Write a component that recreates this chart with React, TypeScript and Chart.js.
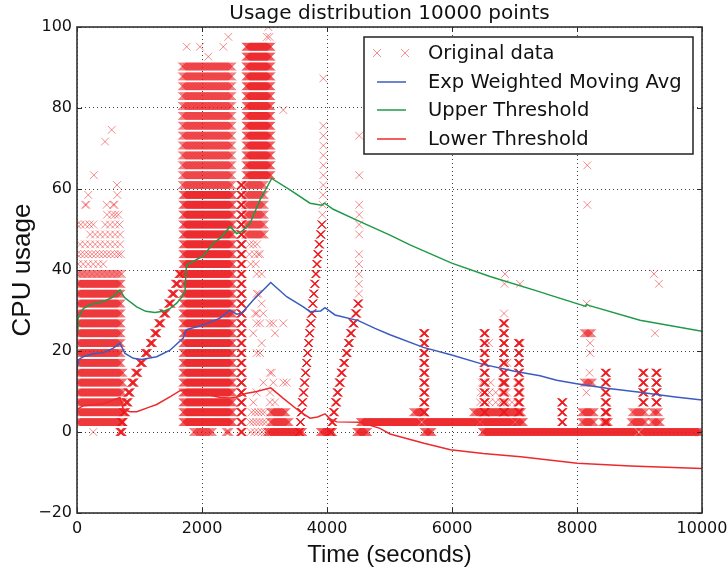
import React, { useEffect, useRef } from 'react';
import { Chart, registerables } from 'chart.js';

Chart.register(...registerables);

// ---------- axis ticks ----------
const xTicks = [0, 2000, 4000, 6000, 8000, 10000];
const yTicks = [-20, 0, 20, 40, 60, 80, 100];

// ---------- quantised CPU levels seen in the data ----------
const cpuLevels = [
  0, 2.44, 4.88, 7.32, 9.76, 12.2, 14.63, 17.07, 19.51, 21.95, 24.39, 26.83, 29.27, 31.71,
  34.15, 36.59, 39.02, 41.46, 43.9, 46.34, 48.78, 51.22, 53.66, 56.1, 58.54, 60.98, 63.41,
  65.85, 68.29, 70.73, 73.17, 75.61, 78.05, 80.49, 82.93, 85.37, 87.8, 90.24, 92.68, 95.12,
  97.56, 100,
];

// runs of consecutive samples:
// [first level index, last level index, start time, end time, sampling interval]
const sampleRuns: [number, number, number, number, number][] = [
  // busy period 0-740 s
  [1, 6, 0, 740, 10], [7, 15, 0, 715, 10], [16, 16, 0, 720, 20],
  // ramp 680-1675 s
  [0, 0, 680, 730, 4], [1, 1, 700, 745, 4], [2, 2, 735, 785, 4], [3, 3, 775, 825, 4],
  [4, 4, 810, 860, 4], [5, 5, 870, 920, 4], [6, 6, 930, 980, 4], [7, 7, 1005, 1055, 4],
  [8, 8, 1085, 1135, 4], [9, 9, 1165, 1215, 4], [10, 10, 1235, 1285, 4], [11, 11, 1300, 1350, 4],
  [12, 12, 1380, 1430, 4], [13, 13, 1460, 1510, 4], [14, 14, 1515, 1565, 4],
  [15, 15, 1570, 1620, 4], [16, 16, 1625, 1675, 4],
  // busy period 1680-2650 s
  [1, 24, 1690, 2500, 8], [25, 37, 1680, 2490, 12], [0, 0, 1860, 2180, 12],
  [0, 0, 2380, 2450, 12], [0, 25, 2615, 2650, 3],
  // busy period 2690-3620 s
  [26, 39, 2700, 3110, 8], [20, 25, 2690, 3010, 12], [0, 0, 3040, 3620, 8],
  [1, 1, 3090, 3400, 10], [2, 2, 3090, 3350, 10],
  // ramp 3550-3925 s
  [0, 0, 3548, 3566, 2], [1, 1, 3566, 3584, 2], [2, 2, 3583, 3601, 2], [3, 3, 3599, 3617, 2],
  [4, 4, 3616, 3634, 2], [5, 5, 3632, 3650, 2], [6, 6, 3649, 3667, 2], [7, 7, 3666, 3684, 2],
  [8, 8, 3682, 3700, 2], [9, 9, 3699, 3717, 2], [10, 10, 3714, 3732, 2], [11, 11, 3731, 3749, 2],
  [12, 12, 3747, 3765, 2], [13, 13, 3764, 3782, 2], [14, 14, 3780, 3798, 2],
  [15, 15, 3797, 3815, 2], [16, 16, 3814, 3832, 2], [17, 17, 3830, 3848, 2],
  [18, 18, 3847, 3865, 2], [19, 19, 3868, 3886, 2], [20, 20, 3891, 3909, 2],
  [21, 21, 3910, 3924, 2], [0, 0, 3890, 4100, 8],
  // ramp 4040-4510 s
  [0, 0, 4040, 4072, 3], [1, 1, 4070, 4102, 3], [2, 2, 4096, 4128, 3], [3, 3, 4130, 4162, 3],
  [4, 4, 4156, 4188, 3], [5, 5, 4190, 4222, 3], [6, 6, 4220, 4252, 3], [7, 7, 4260, 4292, 3],
  [8, 8, 4300, 4332, 3], [9, 9, 4335, 4367, 3], [10, 10, 4370, 4402, 3],
  [11, 11, 4410, 4442, 3], [12, 12, 4450, 4482, 3], [13, 13, 4485, 4512, 3],
  [0, 0, 4470, 4660, 8],
  // idle bands
  [1, 1, 4530, 5505, 8], [1, 1, 5535, 6440, 8], [1, 1, 6460, 7000, 8], [1, 1, 7020, 7150, 8],
  [0, 0, 6480, 8975, 8], [0, 0, 9010, 10000, 8],
  // spike near 5550 s
  [2, 10, 5540, 5575, 3], [2, 2, 5380, 5560, 10], [0, 0, 5550, 5690, 8],
  // bursts 6340-7120 s
  [2, 2, 6340, 7120, 10], [2, 10, 6505, 6540, 3], [2, 11, 6815, 6850, 3],
  [2, 9, 7055, 7090, 3], [5, 5, 6800, 6860, 10],
  // small bursts after 7700 s
  [1, 3, 7750, 7780, 3],
  [1, 2, 8070, 8280, 10], [5, 5, 8110, 8260, 12], [10, 10, 8110, 8250, 12],
  [1, 6, 8445, 8480, 3], [1, 1, 8410, 8510, 10], [2, 2, 8440, 8490, 10],
  [1, 1, 8860, 9100, 10], [1, 1, 9190, 9340, 10], [2, 2, 8880, 9100, 12],
  [2, 2, 9210, 9310, 10], [3, 6, 9045, 9080, 3], [3, 6, 9255, 9290, 3],
];

// isolated samples on one level: [level index, sample times]
const levelRows: [number, number[]][] = [
  [0, [260]],
  [17, [20, 100, 180, 260, 340, 420]],
  [18, [0, 60, 120, 180, 240, 300, 360, 420, 480, 540, 600, 660, 700]],
  [19, [50, 130, 210, 290, 370, 450, 530, 610, 690]],
  [20, [210, 290, 370, 450, 530, 610, 690]],
  [21, [0, 60, 130, 200, 260, 450, 530, 610, 680]],
  [22, [480, 560, 610, 660]],
  [23, [130, 150, 475, 580, 600]],
  [24, [180, 645]],
  [25, [640]],
  [26, [270]],
  [38, [2101]], [39, [1755, 1968, 2341]], [40, [2421]],
  [40, [3040, 3080]], [41, [3061]],
  [19, [2760, 2820, 2880]], [18, [2760, 2840, 2900, 2928]], [17, [2780, 2860]],
  [16, [2875, 2955]], [14, [2875, 2900]], [13, [2955]],
  [12, [2848, 2875, 2981]], [11, [2875, 2928, 3088, 3140, 3301]], [10, [2821, 3168]],
  [9, [2955]], [8, [2875, 2928]], [6, [3088, 3115]], [5, [2981, 3140, 3301, 3355]],
  [4, [2875, 3088]], [3, [2821, 3088, 3168]],
  [2, [2795, 2850, 2900, 2950, 3000]],
  [1, [2770, 2820, 2870, 2920, 2970, 3020]],
  [0, [2780, 2840, 2900, 2960, 3010]],
  [22, [3925]], [23, [3932]], [24, [3937]], [25, [3941]], [26, [3941]], [27, [3941]],
  [28, [3941]], [29, [3941]], [30, [3941]], [31, [3941]],
  [14, [4510]], [15, [4510]], [16, [4510]], [17, [4512]], [18, [4512]],
  [20, [4515]], [21, [4515]], [22, [4515]], [23, [4515]], [26, [4515]], [30, [4515]],
  [3, [6450, 6600, 6700, 6780, 6880, 6960, 7040, 7090]],
  [4, [6460, 6600, 6700, 6800, 6880, 7060, 7100]],
  [5, [6480, 6620, 7040, 7080]],
  [9, [6592, 7099]], [7, [6885]], [12, [6832]], [15, [6840, 7088]], [16, [6848]],
  [4, [8150]], [6, [8200]], [8, [8210]], [9, [8210]], [13, [8155]], [23, [8165]], [27, [8165]],
  [10, [9248]], [15, [9312]], [16, [9232]],
];

// isolated samples [time, cpu]
const outlierPoints: [number, number][] = [
  [448, 71.7], [555, 74.6], [3941, 87.3], [3301, 79.5],
];

// ---------- smoothed series [time, value] ----------
const ewmaPoints: [number, number][] = [
  [0, 15.3], [21, 17.8], [101, 18.6], [261, 19.3], [421, 19.6], [581, 20.7], [688, 21.9],
  [768, 19.4], [901, 18.2], [1035, 17.9], [1275, 18.6], [1488, 20.2], [1700, 23.2],
  [1740, 25.0], [1760, 25.3], [2021, 26.4], [2288, 28.1], [2448, 30.1], [2555, 29.1],
  [2635, 29.3], [2821, 32.6], [3100, 36.9], [3355, 33.4], [3621, 30.9], [3728, 29.7],
  [3900, 29.9], [3968, 30.7], [4128, 28.9], [4501, 27.5], [4768, 25.6], [5008, 24.0],
  [5541, 20.9], [5995, 19.0], [6501, 16.7], [7000, 15.0], [7408, 13.9], [7675, 12.8],
  [7995, 11.9], [8475, 10.8], [9008, 9.8], [9541, 8.7], [10000, 7.9],
];

const upperPoints: [number, number][] = [
  [0, 25], [15, 28], [48, 29], [100, 30.5], [208, 31.4], [421, 32.2], [560, 33.2], [688, 35.1],
  [760, 33.2], [955, 30.9], [1100, 29.8], [1248, 29.5], [1400, 29.9], [1488, 30.5],
  [1595, 31.8], [1700, 33.8], [1730, 35], [1745, 40], [1760, 41.3], [2021, 43.5],
  [2181, 46.6], [2300, 48], [2448, 50.7], [2555, 49.0], [2635, 49.5], [2768, 51.5],
  [2928, 57.3], [3115, 62.6], [3408, 59.8], [3728, 56.5], [3915, 56.0], [3960, 56.5],
  [4100, 55], [4475, 52.3], [5008, 48.6], [5328, 46.2], [5995, 41.7], [6608, 38.4],
  [7408, 34.6], [7568, 33.8], [8140, 31.0], [8155, 31.5], [8200, 31.2], [9008, 27.6],
  [10000, 24.9],
];

const lowerPoints: [number, number][] = [
  [0, 5.5], [100, 6.5], [421, 7], [688, 8.5], [741, 5.6], [848, 5.0], [955, 5.0], [1168, 6.2],
  [1275, 6.8], [1500, 8.8], [1648, 10.2], [1740, 10.4], [2021, 9.5], [2288, 8.5], [2448, 8.4],
  [2555, 8.6], [2700, 9.5], [2875, 10.0], [3100, 10.9], [3301, 8.3], [3568, 5.0], [3728, 3.4],
  [3850, 3.7], [3968, 4.5], [4050, 3.2], [4155, 2.5], [4528, 2.4], [4848, 0.9], [5008, -0.5],
  [5552, -2.8], [5975, -4.4], [6500, -5.3], [7099, -6.1], [8005, -7.7], [8859, -8.4],
  [10000, -9.0],
];

const chartTitle = 'Usage distribution 10000 points';
const legendLabels = ['Original data', 'Exp Weighted Moving Avg', 'Upper Threshold', 'Lower Threshold'];

const MARKER = 'rgba(235, 25, 30, 0.5)';
const BLUE = '#3a5cc0';
const GREEN = '#1f9a48';
const RED = '#ec2a2e';

function buildSamples() {
  const pts: { x: number; y: number }[] = [];
  for (const [k0, k1, t0, t1, dt] of sampleRuns) {
    for (let k = k0; k <= k1; k++) for (let t = t0; t <= t1; t += dt) pts.push({ x: t, y: cpuLevels[k] });
  }
  for (const [k, xs] of levelRows) for (const x of xs) pts.push({ x, y: cpuLevels[k] });
  for (const [x, y] of outlierPoints) pts.push({ x, y });
  return pts;
}

const toXY = (arr: [number, number][]) => arr.map(([x, y]) => ({ x, y }));

const framePlugin = {
  id: 'frameTicks',
  afterDatasetsDraw(chart: any) {
    const { ctx, chartArea: a, scales } = chart;
    ctx.save();
    ctx.strokeStyle = '#2a2a2a';
    ctx.lineWidth = 1;
    for (const v of xTicks) {
      const px = Math.round(scales.x.getPixelForValue(v)) + 0.5;
      ctx.beginPath();
      ctx.moveTo(px, a.bottom); ctx.lineTo(px, a.bottom - 5);
      ctx.moveTo(px, a.top); ctx.lineTo(px, a.top + 5);
      ctx.stroke();
    }
    for (const v of yTicks) {
      const py = Math.round(scales.y.getPixelForValue(v)) + 0.5;
      ctx.beginPath();
      ctx.moveTo(a.left, py); ctx.lineTo(a.left + 5, py);
      ctx.moveTo(a.right, py); ctx.lineTo(a.right - 5, py);
      ctx.stroke();
    }
    ctx.lineWidth = 1.6;
    ctx.strokeStyle = '#333';
    ctx.strokeRect(a.left, a.top, a.right - a.left, a.bottom - a.top);
    ctx.restore();
  },
};

const legendPlugin = {
  id: 'boxLegend',
  afterDraw(chart: any) {
    const { ctx, chartArea: a } = chart;
    // title centred over the plot area
    ctx.save();
    ctx.font = '20px "DejaVu Sans"';
    ctx.fillStyle = '#111';
    ctx.textAlign = 'center';
    ctx.textBaseline = 'middle';
    ctx.fillText(chartTitle, (a.left + a.right) / 2, 14);
    ctx.restore();

    const bx = a.right - 338;
    const by = a.top + 10;
    const bw = 329;
    const bh = 117;
    ctx.save();
    ctx.fillStyle = '#fff';
    ctx.fillRect(bx, by, bw, bh);
    ctx.lineWidth = 1.5;
    ctx.strokeStyle = '#222';
    ctx.strokeRect(bx, by, bw, bh);
    const rows = [16, 45, 73, 102];
    const colors = [MARKER, BLUE, GREEN, RED];
    ctx.font = '19.5px "DejaVu Sans"';
    ctx.textBaseline = 'middle';
    legendLabels.forEach((label, i) => {
      const cy = by + rows[i];
      if (i === 0) {
        ctx.strokeStyle = MARKER;
        ctx.lineWidth = 1;
        for (const cx of [bx + 13, bx + 41]) {
          ctx.beginPath();
          ctx.moveTo(cx - 4, cy - 4); ctx.lineTo(cx + 4, cy + 4);
          ctx.moveTo(cx + 4, cy - 4); ctx.lineTo(cx - 4, cy + 4);
          ctx.stroke();
        }
      } else {
        ctx.strokeStyle = colors[i];
        ctx.lineWidth = 1.5;
        ctx.beginPath();
        ctx.moveTo(bx + 13, cy); ctx.lineTo(bx + 42, cy);
        ctx.stroke();
      }
      ctx.fillStyle = '#111';
      ctx.fillText(label, bx + 64, cy + 1);
    });
    ctx.restore();
  },
};

export default function App() {
  const ref = useRef<HTMLCanvasElement | null>(null);

  useEffect(() => {
    if (!ref.current) return;
    const tickFont = { family: '"DejaVu Sans", sans-serif', size: 16 };
    const gridColor = 'rgba(0,0,0,0.75)';
    const chart = new Chart(ref.current, {
      type: 'scatter',
      data: {
        datasets: [
          {
            label: legendLabels[3], data: toXY(lowerPoints), showLine: true, borderColor: RED,
            backgroundColor: RED, borderWidth: 1.5, pointRadius: 0, tension: 0,
          },
          {
            label: legendLabels[2], data: toXY(upperPoints), showLine: true, borderColor: GREEN,
            backgroundColor: GREEN, borderWidth: 1.5, pointRadius: 0, tension: 0,
          },
          {
            label: legendLabels[1], data: toXY(ewmaPoints), showLine: true, borderColor: BLUE,
            backgroundColor: BLUE, borderWidth: 1.5, pointRadius: 0, tension: 0,
          },
          {
            label: legendLabels[0], data: buildSamples(), pointStyle: 'crossRot', pointRadius: 5.5,
            borderColor: MARKER, backgroundColor: MARKER, borderWidth: 1,
          },
        ],
      } as any,
      options: {
        responsive: false,
        animation: false,
        devicePixelRatio: 1,
        layout: { padding: { left: 0, right: 26, top: 27, bottom: 0 } },
        plugins: {
          legend: { display: false },
          tooltip: { enabled: false },
          title: { display: false },
        },
        scales: {
          x: {
            type: 'linear',
            min: 0,
            max: 10000,
            afterBuildTicks: (s: any) => { s.ticks = xTicks.map((v) => ({ value: v })); },
            afterFit: (s: any) => { s.height = 58; s.paddingLeft = 0; s.paddingRight = 0; },
            ticks: {
              font: tickFont, color: '#111', padding: 6, autoSkip: false, maxRotation: 0,
              callback: (v: any) => String(v),
            },
            grid: { color: gridColor, lineWidth: 1, drawTicks: false },
            border: { display: false, dash: [1, 3] },
            title: {
              display: true, text: 'Time (seconds)', color: '#111',
              font: { family: '"Liberation Sans", Arial, sans-serif', size: 24, lineHeight: 1.2 },
              padding: { top: 0, bottom: 1 },
            },
          },
          y: {
            type: 'linear',
            min: -20,
            max: 100,
            afterBuildTicks: (s: any) => { s.ticks = yTicks.map((v) => ({ value: v })); },
            afterFit: (s: any) => { s.width = 77; s.paddingTop = 0; s.paddingBottom = 0; },
            ticks: {
              font: tickFont, color: '#111', padding: 5,
              callback: (v: any) => (Number(v) < 0 ? '\u2212' + Math.abs(Number(v)) : String(v)),
            },
            grid: { color: gridColor, lineWidth: 1, drawTicks: false },
            border: { display: false, dash: [1, 3] },
            title: {
              display: true, text: 'CPU usage', color: '#111',
              font: { family: '"Liberation Sans", Arial, sans-serif', size: 26, lineHeight: 1.2 },
              padding: { top: 7, bottom: 0 },
            },
          },
        },
      } as any,
      plugins: [framePlugin, legendPlugin],
    });
    return () => chart.destroy();
  }, []);

  return (
    <div style={{ position: 'fixed', left: 0, top: 0, width: 728, height: 571, background: '#fff' }}>
      <canvas ref={ref} width={728} height={571} style={{ display: 'block' }} />
    </div>
  );
}
